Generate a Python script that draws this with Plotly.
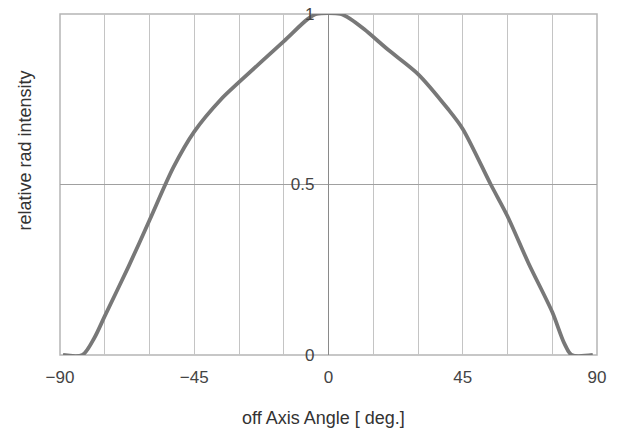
import plotly.graph_objects as go

angle = [-89, -82.5, -78.5, -75, -67, -60, -52, -45, -36, -30, -15, -7, -4, 4, 7.4, 12, 20, 30, 40, 45, 54.4, 60, 67, 75, 79, 81.5, 88.6]
intensity = [0, 0, 0.05, 0.114, 0.26, 0.395, 0.55, 0.655, 0.75, 0.80, 0.92, 0.985, 1.0, 1.0, 0.985, 0.955, 0.895, 0.824, 0.722, 0.663, 0.5, 0.407, 0.27, 0.126, 0.035, 0, 0]

x_ticks = [-90, -45, 0, 45, 90]
y_ticks = [0, 0.5, 1]
y_tick_text = ["0", "0.5", "1"]

fig = go.Figure()
fig.add_trace(go.Scatter(
    x=angle, y=intensity, mode="lines",
    line=dict(color="#787878", width=3.8, shape="spline", smoothing=0.8),
    showlegend=False, hoverinfo="skip"))

fam = "Liberation Sans, Arial, sans-serif"
tick_font = dict(family=fam, size=17, color="#444")
title_font = dict(family=fam, size=18, color="#333")

fig.update_layout(
    width=622, height=431,
    margin=dict(l=60, r=25, t=14, b=76, autoexpand=False),
    paper_bgcolor="white", plot_bgcolor="white",
    font=tick_font,
    xaxis=dict(
        range=[-90, 90], tickvals=x_ticks, ticks="",
        showgrid=True, gridcolor="#c4c4c4", gridwidth=1,
        minor=dict(dtick=15, tick0=0, showgrid=True, gridcolor="#c4c4c4", gridwidth=1),
        zeroline=True, zerolinecolor="#8a8a8a", zerolinewidth=1.2,
        showline=False, tickfont=tick_font, ticklabelstandoff=10, automargin=False,
    ),
    yaxis=dict(
        range=[0, 1], tickvals=y_ticks, ticktext=y_tick_text,
        anchor="free", position=0.5, ticks="",
        showgrid=True, gridcolor="#a0a0a0", gridwidth=1,
        zeroline=False, showline=False, tickfont=tick_font,
        ticklabelstandoff=14, automargin=False,
    ),
    shapes=[dict(type="rect", xref="paper", yref="paper", x0=0, x1=1, y0=0, y1=1,
                 line=dict(color="#b5b5b5", width=1.5), fillcolor="rgba(0,0,0,0)", layer="below")],
    annotations=[
        dict(text="relative rad intensity", xref="paper", yref="paper",
             x=-0.065, y=0.6, textangle=-90, showarrow=False,
             xanchor="center", yanchor="middle", font=title_font),
        dict(text="off Axis Angle [ deg.]", xref="paper", yref="paper",
             x=0.49, y=-0.185, showarrow=False,
             xanchor="center", yanchor="middle", font=title_font),
    ],
)

fig.write_html("out.html", config={"displayModeBar": False},
               post_script="document.body.style.margin='0';")
